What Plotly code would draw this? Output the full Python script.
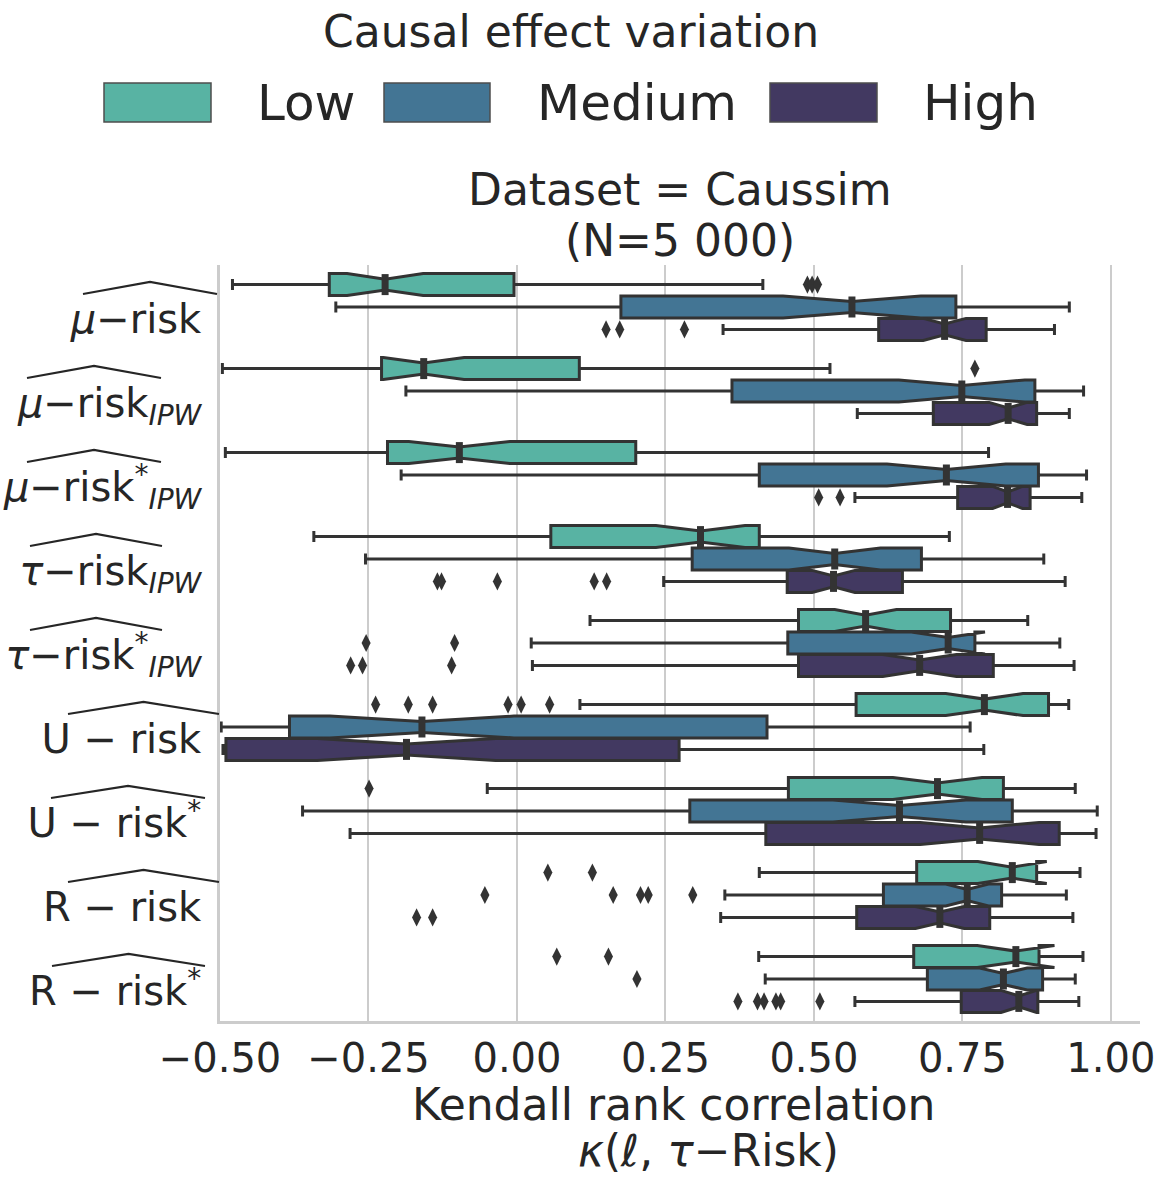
import plotly.graph_objects as go

# ---------------- data ----------------
categories = ["mu-risk", "mu-risk_IPW", "mu-risk*_IPW", "tau-risk_IPW", "tau-risk*_IPW",
              "U-risk", "U-risk*", "R-risk", "R-risk*"]
tick_labels = [
    "<i>μ</i>−risk",
    "<i>μ</i>−risk<sub><i>IPW</i></sub>",
    "<i>μ</i>−risk<sup>*</sup><sub><i>IPW</i></sub>",
    "<i>τ</i>−risk<sub><i>IPW</i></sub>",
    "<i>τ</i>−risk<sup>*</sup><sub><i>IPW</i></sub>",
    "U − risk",
    "U − risk<sup>*</sup>",
    "R − risk",
    "R − risk<sup>*</sup>",
]
hues = ["Low", "Medium", "High"]

low_lowerfence = [-0.479, -0.496, -0.491, -0.342, 0.123, 0.106, -0.050, 0.408, 0.407]
low_q1 = [-0.316, -0.228, -0.218, 0.057, 0.474, 0.571, 0.457, 0.673, 0.668]
low_median = [-0.222, -0.157, -0.097, 0.309, 0.587, 0.787, 0.708, 0.834, 0.840]
low_q3 = [-0.005, 0.105, 0.200, 0.408, 0.730, 0.895, 0.819, 0.875, 0.879]
low_upperfence = [0.414, 0.527, 0.794, 0.728, 0.860, 0.929, 0.940, 0.948, 0.953]
low_notch = [0.064, 0.068, 0.085, 0.075, 0.052, 0.065, 0.075, 0.058, 0.065]
low_outliers = [[0.489, 0.497, 0.506], [0.771], [], [], [],
                [-0.238, -0.183, -0.142, -0.015, 0.007, 0.055], [-0.249],
                [0.052, 0.127], [0.067, 0.154]]

med_lowerfence = [-0.305, -0.187, -0.195, -0.255, 0.024, -0.498, -0.361, 0.350, 0.418]
med_q1 = [0.175, 0.362, 0.408, 0.295, 0.456, -0.383, 0.291, 0.617, 0.691]
med_median = [0.564, 0.749, 0.723, 0.535, 0.726, -0.160, 0.644, 0.758, 0.819]
med_q3 = [0.739, 0.872, 0.878, 0.681, 0.771, 0.421, 0.834, 0.816, 0.885]
med_upperfence = [0.930, 0.954, 0.959, 0.887, 0.914, 0.763, 0.977, 0.925, 0.940]
med_notch = [0.116, 0.106, 0.100, 0.077, 0.062, 0.155, 0.112, 0.036, 0.040]
med_outliers = [[], [], [], [], [-0.254, -0.105], [], [],
                [-0.054, 0.162, 0.208, 0.221, 0.296], [0.202]]

high_lowerfence = [0.347, 0.573, 0.569, 0.247, 0.026, -0.495, -0.281, 0.343, 0.569]
high_q1 = [0.609, 0.701, 0.742, 0.455, 0.474, -0.490, 0.419, 0.572, 0.748]
high_median = [0.720, 0.827, 0.826, 0.533, 0.678, -0.186, 0.779, 0.712, 0.845]
high_q3 = [0.790, 0.875, 0.864, 0.649, 0.802, 0.273, 0.913, 0.796, 0.877]
high_upperfence = [0.905, 0.930, 0.951, 0.923, 0.938, 0.786, 0.975, 0.936, 0.946]
high_notch = [0.036, 0.032, 0.025, 0.036, 0.062, 0.150, 0.100, 0.041, 0.030]
high_outliers = [[0.150, 0.173, 0.282], [], [0.508, 0.544],
                 [-0.134, -0.127, -0.033, 0.130, 0.151], [-0.280, -0.260, -0.110],
                 [], [], [-0.169, -0.142], [0.372, 0.405, 0.416, 0.436, 0.444, 0.510]]

x_tick_values = [-0.5, -0.25, 0.0, 0.25, 0.5, 0.75, 1.0]
x_tick_labels = ["−0.50", "−0.25", "0.00", "0.25", "0.50", "0.75", "1.00"]

# ---------------- style ----------------
colors = ["#58b3a3", "#437594", "#423961"]
edge = "#333333"
text_color = "#262626"
grid = "#cccccc"
FONT = "DejaVu Sans"

W, H = 1162, 1177
ML, MR, MT, MB = 220, 22, 265, 156
PW, PH = W - ML - MR, H - MT - MB

n_cat = len(categories)
step = 0.8 / 3
box_w = step * 0.98

stats = [
    (low_lowerfence, low_q1, low_median, low_q3, low_upperfence, low_notch, low_outliers),
    (med_lowerfence, med_q1, med_median, med_q3, med_upperfence, med_notch, med_outliers),
    (high_lowerfence, high_q1, high_median, high_q3, high_upperfence, high_notch, high_outliers),
]

fig = go.Figure()
for k, hue in enumerate(hues):
    lf, q1, md, q3, uf, nt, outl = stats[k]
    pos = [i + (k - 1) * step for i in range(n_cat)]
    fig.add_trace(go.Box(
        orientation="h", y=pos, q1=q1, median=md, q3=q3,
        lowerfence=lf, upperfence=uf, notchspan=nt,
        notched=True, notchwidth=0.25, width=box_w, whiskerwidth=0.5,
        fillcolor=colors[k], line=dict(color=edge, width=3),
        boxpoints=False, name=hue, showlegend=False,
    ))
    # thick median marks
    fig.add_trace(go.Scatter(
        x=md, y=pos, mode="markers", showlegend=False, hoverinfo="skip",
        marker=dict(symbol="line-ns", size=15, line=dict(color=edge, width=7)),
    ))
    # outliers
    ox, oy = [], []
    for i, vals in enumerate(outl):
        for v in vals:
            ox.append(v)
            oy.append(pos[i])
    fig.add_trace(go.Scatter(
        x=ox, y=oy, mode="markers", showlegend=False, name=hue + " outliers",
        marker=dict(symbol="diamond-tall", size=13, color=edge),
    ))

def ypap(p):
    return (8.5 - p) / 9.0

def xpx(px):
    return (px - ML) / PW

def ypx(py):
    return (H - MB - py) / PH

shapes = []
# wide hats over the y tick labels
hat_x = [(83, 217), (27, 161), (27, 161), (30, 162), (30, 162), (68, 219), (51, 205), (68, 219), (52, 205)]
for i, (a, b) in enumerate(hat_x):
    y_end = ypap(i - 0.155)
    y_top = ypap(i - 0.30)
    m = (a + b) / 2
    shapes.append(dict(type="path", xref="paper", yref="paper",
                       path=f"M {xpx(a)},{y_end} L {xpx(m)},{y_top} L {xpx(b)},{y_end}",
                       line=dict(color=text_color, width=2.2)))

# legend patches
annotations = []
legend_patch_x = [(104, 211), (384, 490), (770, 877)]
legend_text_x = [255, 535, 921]
for k, hue in enumerate(hues):
    a, b = legend_patch_x[k]
    shapes.append(dict(type="rect", xref="paper", yref="paper",
                       x0=xpx(a), x1=xpx(b), y0=ypx(122), y1=ypx(83),
                       fillcolor=colors[k], line=dict(color="#4d4d4d", width=1.5)))
    annotations.append(dict(text=hue, xref="paper", yref="paper", x=xpx(legend_text_x[k]),
                            y=ypx(103), xanchor="left", yanchor="middle", showarrow=False,
                            font=dict(size=50, color=text_color, family=FONT)))

annotations.append(dict(text="Causal effect variation", xref="paper", yref="paper",
                        x=xpx(571), y=ypx(31), xanchor="center", yanchor="middle",
                        showarrow=False, font=dict(size=44, color=text_color, family=FONT)))
annotations.append(dict(text="Dataset = Caussim", xref="paper", yref="paper",
                        x=0.5, y=ypx(190), xanchor="center", yanchor="middle",
                        showarrow=False, font=dict(size=44, color=text_color, family=FONT)))
annotations.append(dict(text="(N=5 000)", xref="paper", yref="paper",
                        x=0.5, y=ypx(241), xanchor="center", yanchor="middle",
                        showarrow=False, font=dict(size=44, color=text_color, family=FONT)))
# x-axis title (two lines)
annotations.append(dict(text="Kendall rank correlation", xref="paper", yref="paper",
                        x=xpx(673), y=ypx(1104), xanchor="center", yanchor="middle",
                        showarrow=False, font=dict(size=44, color=text_color, family=FONT)))
annotations.append(dict(text="<i>κ</i>(<i>ℓ</i>, <i>τ</i>−Risk)", xref="paper", yref="paper",
                        x=xpx(708), y=ypx(1150), xanchor="center", yanchor="middle",
                        showarrow=False, font=dict(size=44, color=text_color, family=FONT)))

fig.update_layout(
    width=W, height=H, autosize=False,
    margin=dict(l=ML, r=MR, t=MT, b=MB, pad=0),
    paper_bgcolor="white", plot_bgcolor="white",
    font=dict(family=FONT, color=text_color),
    shapes=shapes, annotations=annotations,
    showlegend=False,
    xaxis=dict(
        range=[-0.5, 1.049], tickvals=x_tick_values, ticktext=x_tick_labels,
        showgrid=True, gridcolor=grid, gridwidth=2, zeroline=False,
        showline=True, linecolor=grid, linewidth=2.5, ticks="",
        tickfont=dict(size=40, color=text_color, family=FONT),
        ticklabelstandoff=0, automargin=False,
    ),
    yaxis=dict(
        range=[8.5, -0.5], tickvals=[i + 0.14 for i in range(n_cat)], ticktext=tick_labels,
        showgrid=False, zeroline=False, showline=True, linecolor=grid, linewidth=2.5,
        ticks="", tickfont=dict(size=40, color=text_color, family=FONT),
        ticklabelstandoff=8, automargin=False,
    ),
)

fig.write_html("out.html")
